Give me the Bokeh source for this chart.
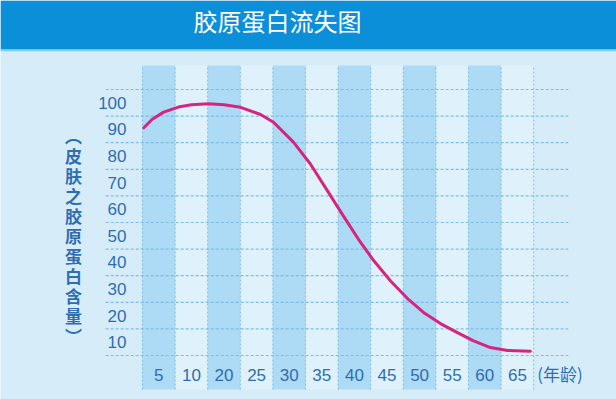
from bokeh.plotting import figure
from bokeh.models import Range1d, LinearAxis, FixedTicker, BoxAnnotation
from bokeh.core.properties import value
from bokeh.embed import file_html
from bokeh.resources import INLINE

# ---- data ----
chart_title = "胶原蛋白流失图"
y_title = "︵皮肤之胶原蛋白含量︶"
age_labels = ["5", "10", "20", "25", "30", "35", "40", "45", "50", "55", "60", "65"]
x_unit = "(年龄)"
y_ticks = [10, 20, 30, 40, 50, 60, 70, 80, 90, 100]
# curve: position along the age slots (slot index), collagen level
curve_pos = [-0.46, -0.2, 0.15, 0.6, 1.0, 1.52, 2.0, 2.51, 3.12, 3.52, 4.13, 4.65,
             5.17, 5.67, 6.13, 6.59, 7.11, 7.63, 8.12, 8.64, 9.16, 9.64, 10.17, 10.7, 11.4]
curve_val = [90.6, 93.8, 96.5, 98.4, 99.3, 99.6, 99.3, 98.3, 95.6, 92.7, 85.2, 77.0,
             67.0, 57.3, 48.6, 40.7, 33.0, 26.4, 21.2, 17.0, 13.6, 10.6, 8.0, 6.9, 6.6]

TICK_COLOR = "#2f6db3"
BG = "#d6edf9"
CELL = "#dff2fc"
SHADE = "#addaf4"
GRID = "#7dbde3"

n = len(age_labels)
col_bottom, col_top = -7.8, 114.0
grid_left, grid_right = -1.63, 12.56

p = figure(width=616, height=399, x_range=Range1d(-4.856, 14.04), y_range=Range1d(-11.54, 138.46),
           output_backend="svg", toolbar_location=None, min_border=0,
           x_axis_type=None, y_axis_type=None)
p.outline_line_color = None
p.background_fill_color = BG
p.border_fill_color = BG

# title bar
p.add_layout(BoxAnnotation(bottom=120.05, fill_color="#0b8fd9", fill_alpha=1.0, line_color=None, level="underlay"))
p.add_layout(BoxAnnotation(bottom=119.4, top=120.05, fill_color="#7fcdf3", fill_alpha=1.0, line_color=None, level="underlay"))

# cells
idx = list(range(n))
p.quad(left=[i - 0.5 for i in idx], right=[i + 0.5 for i in idx], bottom=col_bottom, top=col_top,
       fill_color=CELL, line_color=None)
shaded = [i for i in idx if i % 2 == 0]
p.quad(left=[i - 0.5 for i in shaded], right=[i + 0.5 for i in shaded], bottom=col_bottom, top=col_top,
       fill_color=SHADE, line_color=None)

# grid lines
bounds = [i - 0.5 for i in range(n + 1)]
p.segment(x0=bounds, y0=col_bottom, x1=bounds, y1=col_top, line_color=GRID, line_width=1, line_dash="2 2")
hlines = [t - 5 for t in y_ticks] + [y_ticks[-1] + 5]
p.segment(x0=grid_left, y0=hlines, x1=grid_right, y1=hlines, line_color=GRID, line_width=1.2, line_dash="3 2")

# curve
p.line(curve_pos, curve_val, line_color="#d5257f", line_width=3, line_cap="round", line_join="round")

# axes
yaxis = LinearAxis(ticker=FixedTicker(ticks=y_ticks), fixed_location=-0.5,
                   axis_line_color=None, major_tick_line_color=None, minor_tick_line_color=None,
                   major_label_standoff=10, major_label_text_color=TICK_COLOR,
                   major_label_text_font="Liberation Sans", major_label_text_font_size="17px")
p.add_layout(yaxis, "left")

xaxis = LinearAxis(ticker=FixedTicker(ticks=idx), fixed_location=2.0,
                   major_label_overrides={i: lab for i, lab in enumerate(age_labels)},
                   axis_line_color=None, major_tick_line_color=None, minor_tick_line_color=None,
                   major_label_standoff=0, major_label_text_color=TICK_COLOR,
                   major_label_text_font="Liberation Sans", major_label_text_font_size="17px")
p.add_layout(xaxis, "below")

p.text(x=[12.31], y=[-1.75], text=[x_unit], text_align="center", text_baseline="middle",
       text_color=TICK_COLOR, text_font=value("Noto Sans CJK SC"), text_font_size="17px")

p.text(x=[-2.62], y=[50.1], text=["\n".join(y_title)], text_align="center", text_baseline="middle",
       text_color=TICK_COLOR, text_font=value("Noto Sans CJK SC"), text_font_size="17px",
       text_font_style="bold", text_line_height=0.8)

p.text(x=[3.64], y=[130.9], text=[chart_title], text_align="center", text_baseline="middle",
       text_color="white", text_font=value("Noto Sans CJK SC"), text_font_size="24px")

open("out.html", "w").write(file_html(p, INLINE))
